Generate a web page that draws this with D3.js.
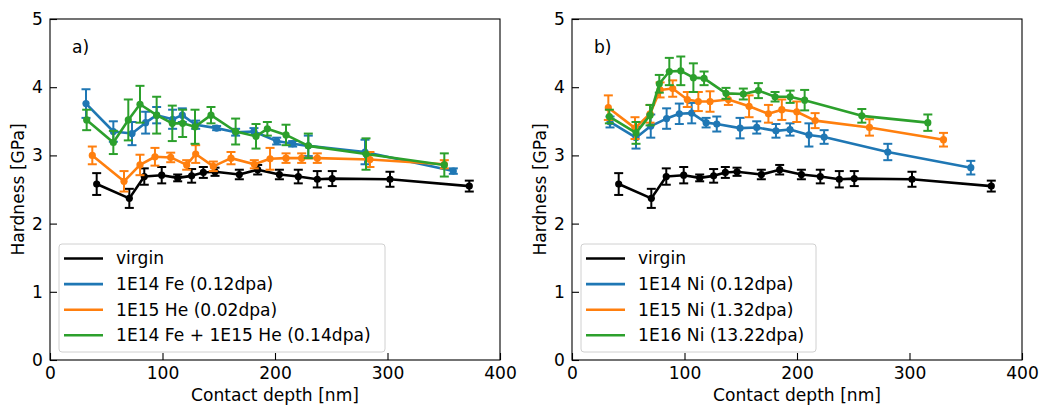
<!DOCTYPE html>
<html><head><meta charset="utf-8">
<script src="https://cdn.jsdelivr.net/npm/d3@7"></script>
<style>body{margin:0;background:#fff}svg{display:block}text{font-family:"DejaVu Sans",sans-serif}</style>
</head><body><svg id="c" width="1041" height="407"></svg>
<script>
// ---- data ----
const xTicks = [0, 100, 200, 300, 400];
const yTicks = [0, 1, 2, 3, 4, 5];

const virginX = [41.5, 70.5, 83.8, 99.3, 113.5, 125.9, 136.3, 146.7, 168.3, 184.6, 203.9, 220.7, 237.6, 250.9, 302.2, 372.7];
const virginY = [2.58, 2.37, 2.69, 2.71, 2.67, 2.70, 2.75, 2.76, 2.72, 2.79, 2.72, 2.69, 2.65, 2.66, 2.65, 2.55];
const virginE = [0.16, 0.14, 0.12, 0.12, 0.05, 0.10, 0.08, 0.06, 0.07, 0.07, 0.07, 0.10, 0.12, 0.11, 0.11, 0.08];

const feX = [32, 56.3, 72.9, 85, 94.8, 109, 117.6, 129.5, 148.1, 165, 181.3, 201.5, 215.7, 229.6, 280, 358.5];
const feY = [3.76, 3.35, 3.32, 3.48, 3.59, 3.53, 3.59, 3.45, 3.40, 3.34, 3.35, 3.21, 3.17, 3.14, 3.05, 2.77];
const feE = [0.21, 0.15, 0.17, 0.16, 0.12, 0.14, 0.10, 0.06, 0.03, 0.05, 0.05, 0.05, 0.04, 0.15, 0.18, 0.04];

const heX = [37.6, 65.8, 80, 93.3, 107.3, 121.5, 129.5, 145.2, 160.9, 181.6, 195.6, 209.8, 223.7, 237.6, 284.4, 350.5];
const heY = [3.00, 2.62, 2.86, 2.98, 2.97, 2.86, 3.02, 2.84, 2.96, 2.87, 2.95, 2.96, 2.96, 2.96, 2.94, 2.87];
const heE = [0.13, 0.15, 0.15, 0.13, 0.07, 0.07, 0.13, 0.07, 0.09, 0.06, 0.16, 0.07, 0.07, 0.07, 0.11, 0.06];

const feHeX = [32.6, 56.3, 69.6, 80, 94.8, 108.7, 117.9, 128.9, 143.1, 165, 183.1, 193.2, 209.8, 229.6, 280.9, 350.5];
const feHeY = [3.52, 3.19, 3.52, 3.75, 3.59, 3.47, 3.47, 3.42, 3.59, 3.35, 3.28, 3.39, 3.30, 3.14, 3.02, 2.86];
const feHeE = [0.15, 0.17, 0.30, 0.27, 0.27, 0.26, 0.20, 0.25, 0.12, 0.19, 0.18, 0.10, 0.15, 0.18, 0.23, 0.17];

const ni14X = [33.8, 56.9, 70, 84.1, 95.4, 106.4, 119.2, 128.7, 149.4, 164.2, 181.3, 193.8, 210.6, 224.1, 280.7, 354.5];
const ni14Y = [3.49, 3.26, 3.43, 3.54, 3.61, 3.62, 3.48, 3.46, 3.40, 3.41, 3.36, 3.38, 3.30, 3.27, 3.05, 2.82];
const ni14E = [0.08, 0.16, 0.17, 0.15, 0.15, 0.15, 0.07, 0.11, 0.15, 0.09, 0.10, 0.09, 0.17, 0.10, 0.12, 0.10];

const ni15X = [32.3, 56, 69.4, 78.3, 89.5, 102.5, 112.3, 122.7, 139, 157.4, 174.6, 186.5, 199.8, 216.1, 264.4, 330.2];
const ni15Y = [3.70, 3.40, 3.61, 3.96, 3.98, 3.82, 3.79, 3.79, 3.82, 3.72, 3.61, 3.67, 3.64, 3.51, 3.41, 3.23];
const ni15E = [0.18, 0.16, 0.13, 0.11, 0.12, 0.11, 0.14, 0.15, 0.08, 0.16, 0.13, 0.15, 0.15, 0.11, 0.12, 0.10];

const ni16X = [33.2, 56.9, 69.4, 77.6, 86.5, 96.7, 107.9, 117.4, 136.9, 152.3, 165.7, 180.5, 193.9, 206.8, 257.6, 316.3];
const ni16Y = [3.57, 3.33, 3.59, 4.05, 4.23, 4.24, 4.14, 4.13, 3.91, 3.90, 3.95, 3.86, 3.86, 3.81, 3.58, 3.48];
const ni16E = [0.10, 0.16, 0.15, 0.13, 0.20, 0.21, 0.21, 0.10, 0.08, 0.08, 0.11, 0.07, 0.09, 0.15, 0.10, 0.12];

const panelLabels = ["a)", "b)"];
const legendA = ["virgin", "1E14 Fe (0.12dpa)", "1E15 He (0.02dpa)", "1E14 Fe + 1E15 He (0.14dpa)"];
const legendB = ["virgin", "1E14 Ni (0.12dpa)", "1E15 Ni (1.32dpa)", "1E16 Ni (13.22dpa)"];
const colors = ["#000000", "#1f77b4", "#ff7f0e", "#2ca02c"];

const panels = [
  {left: 50, label: panelLabels[0], names: legendA, legendW: 326,
   series: [[virginX, virginY, virginE], [feX, feY, feE], [heX, heY, heE], [feHeX, feHeY, feHeE]]},
  {left: 572, label: panelLabels[1], names: legendB, legendW: 235,
   series: [[virginX, virginY, virginE], [ni14X, ni14Y, ni14E], [ni15X, ni15Y, ni15E], [ni16X, ni16Y, ni16E]]}
];

const FS = 17.1;
const svg = d3.select("#c");
const plotTop = 19, plotBottom = 360, plotW = 450;

panels.forEach(p => {
  const g = svg.append("g").attr("transform", `translate(${p.left},0)`);
  const x = d3.scaleLinear().domain([0, 400]).range([0, plotW]);
  const y = d3.scaleLinear().domain([0, 5]).range([plotBottom, plotTop]);

  p.series.forEach((s, i) => {
    const pts = s[0].map((xv, k) => ({x: xv, y: s[1][k], e: s[2][k]}));
    const sg = g.append("g");
    sg.append("path").datum(pts)
      .attr("fill", "none").attr("stroke", colors[i]).attr("stroke-width", 2.6)
      .attr("stroke-linejoin", "round")
      .attr("d", d3.line().x(d => x(d.x)).y(d => y(d.y)));
    const eb = sg.selectAll(".eb").data(pts).enter().append("g");
    eb.append("line").attr("x1", d => x(d.x)).attr("x2", d => x(d.x))
      .attr("y1", d => y(d.y - d.e)).attr("y2", d => y(d.y + d.e))
      .attr("stroke", colors[i]).attr("stroke-width", 2);
    [1, -1].forEach(sgn => {
      eb.append("line").attr("x1", d => x(d.x) - 4.5).attr("x2", d => x(d.x) + 4.5)
        .attr("y1", d => y(d.y + sgn * d.e)).attr("y2", d => y(d.y + sgn * d.e))
        .attr("stroke", colors[i]).attr("stroke-width", 2);
    });
    eb.append("circle").attr("cx", d => x(d.x)).attr("cy", d => y(d.y)).attr("r", 3.6)
      .attr("fill", colors[i]);
  });

  const xa = g.append("g").attr("transform", `translate(0,${plotBottom})`)
    .call(d3.axisBottom(x).tickValues(xTicks).tickSize(-7).tickPadding(7).tickFormat(d3.format("d")));
  const ya = g.append("g")
    .call(d3.axisLeft(y).tickValues(yTicks).tickSize(-7).tickPadding(7).tickFormat(d3.format("d")));
  [xa, ya].forEach(a => {
    a.select(".domain").remove();
    a.selectAll("line").attr("stroke", "#000").attr("stroke-width", 1.1);
    a.selectAll("text").attr("font-size", FS).attr("fill", "#000").style("font-family", "DejaVu Sans");
  });
  xa.selectAll("text").attr("dy", "0.71em");
  g.append("rect").attr("x", 0).attr("y", plotTop).attr("width", plotW).attr("height", plotBottom - plotTop)
    .attr("fill", "none").attr("stroke", "#000").attr("stroke-width", 1.1);

  g.append("text").attr("x", 22).attr("y", 53).attr("font-size", FS).text(p.label);

  g.append("text").attr("x", plotW / 2).attr("y", 401).attr("text-anchor", "middle")
    .attr("font-size", FS).text("Contact depth [nm]");
  g.append("text").attr("transform", `translate(-26,${(plotTop + plotBottom) / 2}) rotate(-90)`)
    .attr("text-anchor", "middle").attr("font-size", FS).text("Hardness [GPa]");

  const lg = g.append("g").attr("transform", "translate(9,244)");
  lg.append("rect").attr("width", p.legendW).attr("height", 108).attr("rx", 3)
    .attr("fill", "#fff").attr("fill-opacity", 0.8).attr("stroke", "#d0d0d0").attr("stroke-width", 1);
  p.names.forEach((n, i) => {
    const yy = 14.5 + i * 25.6;
    lg.append("line").attr("x1", 5).attr("x2", 44).attr("y1", yy).attr("y2", yy)
      .attr("stroke", colors[i]).attr("stroke-width", 2.6);
    lg.append("text").attr("x", 57).attr("y", yy).attr("dy", "0.35em").attr("font-size", FS).text(n);
  });
});
</script></body></html>
